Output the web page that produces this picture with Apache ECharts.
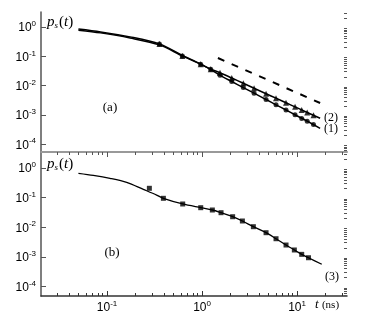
<!DOCTYPE html>
<html>
<head>
<meta charset="utf-8">
<script src="https://cdn.jsdelivr.net/npm/echarts@6/dist/echarts.min.js"></script>
<style>
  html, body { margin: 0; padding: 0; background: #fff; }
  #chart { width: 365px; height: 322px; }
</style>
</head>
<body>
<div id="chart"></div>
<script>
  // panel (a): measured points, t in ns
  const tMarksA = [0.356, 0.621, 0.968, 1.235, 1.546, 2.054, 2.72, 3.53, 4.72, 6.01, 7.66, 9.53, 11.2, 12.8, 14.9];
  const circles1 = [0.262, 0.102, 0.0533, 0.036, 0.0225, 0.0138, 0.00855, 0.00551, 0.00336, 0.00221, 0.00147, 0.00101, 0.00076, 0.00061, 0.00047];
  const triangles2 = [0.262, 0.102, 0.0533, 0.036, 0.0276, 0.0182, 0.012, 0.00814, 0.00529, 0.00372, 0.00259, 0.00188, 0.00147, 0.00121, 0.00098];

  // panel (a): model curves
  const tCurveA = [0.05, 0.0855, 0.175, 0.356, 0.621, 0.968, 1.235, 1.546, 2.054, 2.72, 3.53, 4.72, 6.01, 7.66, 9.53, 12.8, 17.5];
  const curve1 = [0.85, 0.68, 0.46, 0.265, 0.108, 0.054, 0.0355, 0.0225, 0.0138, 0.00855, 0.00551, 0.00336, 0.00221, 0.00147, 0.00101, 0.00061, 0.000349];
  const curve2 = [0.78, 0.63, 0.42, 0.245, 0.103, 0.0535, 0.0365, 0.0276, 0.0182, 0.012, 0.00814, 0.00529, 0.00372, 0.00259, 0.00188, 0.00121, 0.000766];

  // t^-3/2 guide
  const tDash = [1.47, 17.5];
  const vDash = [0.0875, 0.00255];

  // panel (b)
  const tSquares = [0.279, 0.392, 0.626, 0.969, 1.284, 1.585, 2.1, 2.66, 3.47, 4.72, 6.01, 7.66, 9.37, 11.2, 13.2];
  const squares3 = [0.206, 0.0946, 0.0608, 0.0456, 0.0381, 0.0309, 0.0226, 0.0162, 0.0104, 0.00652, 0.00408, 0.0025, 0.0017, 0.00121, 0.00093];
  const tCurveB = [0.05, 0.0718, 0.1075, 0.161, 0.241, 0.333, 0.392, 0.626, 0.969, 1.284, 1.585, 2.1, 2.66, 3.47, 4.72, 6.01, 7.66, 9.37, 11.2, 13.2, 18.2];
  const curve3 = [0.662, 0.565, 0.448, 0.328, 0.19, 0.122, 0.0946, 0.0608, 0.0456, 0.0381, 0.0309, 0.0226, 0.0162, 0.0104, 0.00652, 0.00408, 0.0025, 0.0017, 0.00121, 0.00093, 0.00056];

  // ticks
  const xMajor = [0.1, 1, 10];
  const yMajor = [1e-4, 1e-3, 1e-2, 1e-1, 1];
  const minorOf = (lo, hi) => {
    const out = [];
    for (let n = lo; n <= hi; n++) for (let k = 2; k <= 9; k++) out.push(+(k * Math.pow(10, n)).toPrecision(3));
    return out;
  };
  const xMinor = minorOf(-2, 1);
  const yMinor = minorOf(-5, 0);

  const zip = (xs, ys) => xs.map((x, i) => [x, ys[i]]);

  const X_MIN = Math.pow(10, -1.695), X_MAX = Math.pow(10, 1.526);
  const YA_MIN = Math.pow(10, -4.266), YA_MAX = Math.pow(10, 0.512);
  const YB_MIN = Math.pow(10, -4.324), YB_MAX = Math.pow(10, 0.54);

  const SERIF = '"Liberation Serif", "Times New Roman", serif';

  const powLabel = v => '{b|10}{s|' + Math.round(Math.log10(v)) + '}';
  const labelRich = {
    b: { fontFamily: 'Liberation Sans', fontSize: 12, color: '#000', verticalAlign: 'bottom' },
    s: { fontFamily: 'Liberation Sans', fontSize: 8, color: '#000', verticalAlign: 'bottom', padding: [0, 0, 6, 0] }
  };
  const psRich = {
    i: { fontFamily: SERIF, fontStyle: 'italic', fontSize: 15, verticalAlign: 'bottom' },
    sub: { fontFamily: SERIF, fontStyle: 'italic', fontSize: 9, verticalAlign: 'bottom', padding: [0, 1, 0, 0] },
    n: { fontFamily: SERIF, fontSize: 15, verticalAlign: 'bottom' }
  };

  const logAxis = (extra) => Object.assign({
    type: 'log', logBase: 10, splitLine: { show: false }, minorTick: { show: false }
  }, extra);

  const chart = echarts.init(document.getElementById('chart'), null, { renderer: 'canvas' });
  chart.setOption({
    animation: false,
    backgroundColor: '#fff',
    grid: [
      { left: 41, top: 12, width: 306, height: 140 },
      { left: 41, top: 152, width: 306, height: 144 }
    ],
    xAxis: [
      // panel (a) hidden x
      logAxis({ gridIndex: 0, min: X_MIN, max: X_MAX, axisLine: { show: false }, axisTick: { show: false }, axisLabel: { show: false } }),
      // panel (b) bottom major
      logAxis({ gridIndex: 1, min: X_MIN, max: X_MAX, position: 'bottom',
        axisLine: { show: true, lineStyle: { color: '#333', width: 1.5 } },
        axisTick: { show: true, inside: true, length: 5, customValues: xMajor, lineStyle: { color: '#333' } },
        axisLabel: { customValues: xMajor, formatter: powLabel, rich: labelRich, margin: 4 } }),
      // panel (b) bottom minor
      logAxis({ gridIndex: 1, min: X_MIN, max: X_MAX, position: 'bottom',
        axisLine: { show: false },
        axisTick: { show: true, inside: true, length: 3, customValues: xMinor, lineStyle: { color: '#333' } },
        axisLabel: { show: false } }),
      // panel (b) top major
      logAxis({ gridIndex: 1, min: X_MIN, max: X_MAX, position: 'top',
        axisLine: { show: true, lineStyle: { color: '#999', width: 2 } },
        axisTick: { show: true, inside: true, length: 5, customValues: xMajor, lineStyle: { color: '#555' } },
        axisLabel: { show: false } }),
      // panel (b) top minor
      logAxis({ gridIndex: 1, min: X_MIN, max: X_MAX, position: 'top',
        axisLine: { show: false },
        axisTick: { show: true, inside: true, length: 3, customValues: xMinor, lineStyle: { color: '#555' } },
        axisLabel: { show: false } })
    ],
    yAxis: [
      logAxis({ gridIndex: 0, min: YA_MIN, max: YA_MAX,
        axisLine: { show: true, lineStyle: { color: '#555', width: 1.5 } },
        axisTick: { show: true, inside: true, length: 5, customValues: yMajor, lineStyle: { color: '#555' } },
        axisLabel: { customValues: yMajor, formatter: powLabel, rich: labelRich, margin: 5 } }),
      logAxis({ gridIndex: 0, min: YA_MIN, max: YA_MAX,
        axisLine: { show: false },
        axisTick: { show: true, inside: true, length: 3, customValues: yMinor, lineStyle: { color: '#555' } },
        axisLabel: { show: false } }),
      logAxis({ gridIndex: 1, min: YB_MIN, max: YB_MAX,
        axisLine: { show: true, lineStyle: { color: '#555', width: 1.5 } },
        axisTick: { show: true, inside: true, length: 5, customValues: yMajor, lineStyle: { color: '#555' } },
        axisLabel: { customValues: yMajor, formatter: powLabel, rich: labelRich, margin: 5 } }),
      logAxis({ gridIndex: 1, min: YB_MIN, max: YB_MAX,
        axisLine: { show: false },
        axisTick: { show: true, inside: true, length: 3, customValues: yMinor, lineStyle: { color: '#555' } },
        axisLabel: { show: false } })
    ],
    series: [
      { name: 'curve 1', type: 'line', xAxisIndex: 0, yAxisIndex: 0, data: zip(tCurveA, curve1),
        smooth: 0.3, showSymbol: false, lineStyle: { color: '#000', width: 1.5 } },
      { name: 'curve 2', type: 'line', xAxisIndex: 0, yAxisIndex: 0, data: zip(tCurveA, curve2),
        smooth: 0.3, showSymbol: false, lineStyle: { color: '#000', width: 1.5 } },
      { name: 'slope', type: 'line', xAxisIndex: 0, yAxisIndex: 0, data: zip(tDash, vDash),
        showSymbol: false, lineStyle: { color: '#000', width: 2, type: [7, 8] } },
      { name: 'data 1', type: 'scatter', xAxisIndex: 0, yAxisIndex: 0, data: zip(tMarksA, circles1),
        symbol: 'circle', symbolSize: 5, itemStyle: { color: '#000' } },
      { name: 'data 2', type: 'scatter', xAxisIndex: 0, yAxisIndex: 0, data: zip(tMarksA, triangles2),
        symbol: 'triangle', symbolSize: 6, itemStyle: { color: '#000' } },
      { name: 'curve 3', type: 'line', xAxisIndex: 1, yAxisIndex: 2, data: zip(tCurveB, curve3),
        smooth: 0.3, showSymbol: false, lineStyle: { color: '#000', width: 1.3 } },
      { name: 'data 3', type: 'scatter', xAxisIndex: 1, yAxisIndex: 2, data: zip(tSquares, squares3),
        symbol: 'rect', symbolSize: 5, itemStyle: { color: '#000' } }
    ],
    graphic: [
      { type: 'text', left: 47, top: 15, style: { text: '{i|p}{sub|s}{n|(}{i|t}{n|)}', rich: psRich } },
      { type: 'text', left: 47, top: 157, style: { text: '{i|p}{sub|s}{n|(}{i|t}{n|)}', rich: psRich } },
      { type: 'text', x: 110, y: 108, style: { text: '(a)', font: '13px ' + SERIF, fill: '#000', align: 'center', verticalAlign: 'middle' } },
      { type: 'text', x: 112, y: 253, style: { text: '(b)', font: '13px ' + SERIF, fill: '#000', align: 'center', verticalAlign: 'middle' } },
      { type: 'text', x: 331, y: 118, style: { text: '(2)', font: '12px ' + SERIF, fill: '#000', align: 'center', verticalAlign: 'middle' } },
      { type: 'text', x: 331, y: 129, style: { text: '(1)', font: '12px ' + SERIF, fill: '#000', align: 'center', verticalAlign: 'middle' } },
      { type: 'text', x: 332, y: 277, style: { text: '(3)', font: '12px ' + SERIF, fill: '#000', align: 'center', verticalAlign: 'middle' } },
      { type: 'text', x: 315, y: 305, style: {
        text: '{i|t} {n|(ns)}', verticalAlign: 'middle',
        rich: {
          i: { fontFamily: SERIF, fontStyle: 'italic', fontSize: 13 },
          n: { fontFamily: SERIF, fontSize: 11 }
        } } }
    ]
  });
</script>
</body>
</html>
